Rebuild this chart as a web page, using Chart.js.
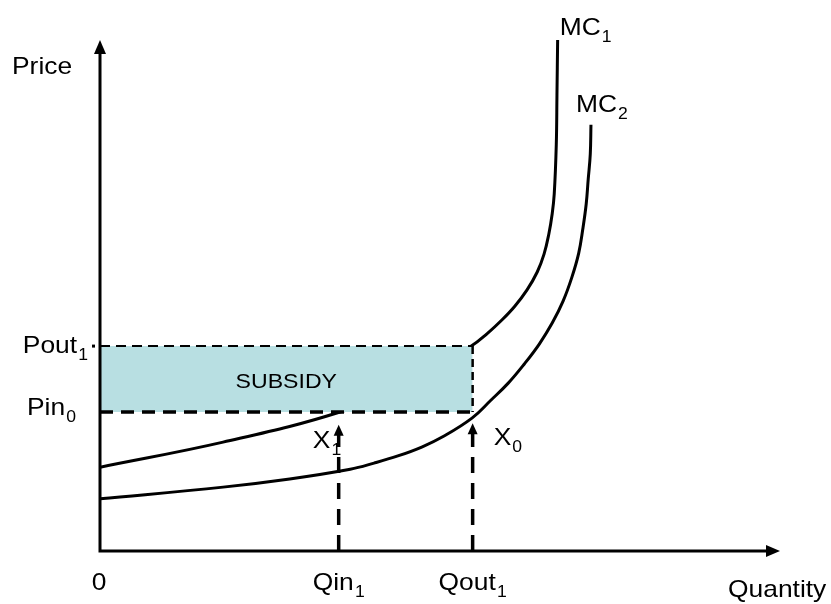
<!DOCTYPE html>
<html>
<head>
<meta charset="utf-8">
<script src="https://cdn.jsdelivr.net/npm/chart.js"></script>
<style>
  html, body { margin: 0; padding: 0; background: #fff; }
  #wrap { position: relative; width: 831px; height: 604px; }
</style>
</head>
<body>
<div id="wrap"><canvas id="chart"></canvas></div>
<script>
// quantity / price, both axes run 0..100
const mc1Q = [0, 18.1, 35.3, 44.9, 54.6, 56.9, 59.1, 61.0, 62.8, 64.3, 65.3, 66.0, 66.5, 66.8, 67.1, 67.2, 67.3];
const mc1P = [16.4, 21.3, 27.2, 32.5, 40.1, 42.5, 45.2, 47.9, 51.1, 54.6, 58.1, 62.0, 66.0, 69.9, 79.5, 89.2, 100];
const mc2Q = [0, 18.1, 27.9, 36.8, 40.3, 43.8, 47.4, 50.6, 54.7, 57.4, 60.0, 62.4, 64.6, 66.5, 68.1, 69.4, 70.4, 71.0, 71.5, 71.8, 72.1, 72.2];
const mc2P = [10.2, 12.5, 14.1, 16.0, 17.2, 18.6, 20.4, 22.5, 26.0, 29.4, 32.8, 36.6, 40.5, 44.6, 48.9, 53.6, 58.3, 63.0, 67.9, 72.8, 77.7, 83.4];

const qLevels = [35.1, 54.8];      // Qin1, Qout1
const qArrowTops = [24.7, 25.0];   // where the dashed up-arrows stop
const pLevels = [40.1, 27.2];      // Pout1, Pin0

const [qin1, qout1] = qLevels;
const [pout1, pin0] = pLevels;

const pts = (xs, ys) => xs.map((v, i) => ({ x: v, y: ys[i] }));
const FONT = '"Liberation Sans", Arial, sans-serif';
const SX = 1.1; // text in the picture is a bit wide

// text with an optional subscript
function label(ctx, main, sub, px, py, align, size) {
  const subSize = 16;
  ctx.font = size + 'px ' + FONT;
  const mw = ctx.measureText(main).width;
  ctx.font = subSize + 'px ' + FONT;
  const sw = sub ? ctx.measureText(sub).width + 1 : 0;
  const total = (mw + sw) * SX;
  let left = px;
  if (align === 'center') left = px - total / 2;
  if (align === 'right') left = px - total;
  ctx.save();
  ctx.translate(left, py);
  ctx.scale(SX, 1);
  ctx.fillStyle = '#000';
  ctx.textAlign = 'left';
  ctx.textBaseline = 'alphabetic';
  ctx.font = size + 'px ' + FONT;
  ctx.fillText(main, 0, 0);
  if (sub) {
    ctx.font = subSize + 'px ' + FONT;
    ctx.fillText(sub, mw + 1, 7);
  }
  ctx.restore();
}

function tri(ctx, tx, ty, dir, len, half) {
  ctx.beginPath();
  if (dir === 'up') {
    ctx.moveTo(tx, ty);
    ctx.lineTo(tx - half, ty + len);
    ctx.lineTo(tx + half, ty + len);
  } else {
    ctx.moveTo(tx, ty);
    ctx.lineTo(tx - len, ty - half);
    ctx.lineTo(tx - len, ty + half);
  }
  ctx.closePath();
  ctx.fill();
}

const diagram = {
  id: 'diagram',
  afterDatasetsDraw(chart) {
    const { ctx, scales: { x, y } } = chart;
    const x0 = x.getPixelForValue(0), y0 = y.getPixelForValue(0);
    const xEnd = x.getPixelForValue(100), yEnd = y.getPixelForValue(100);
    ctx.save();
    ctx.fillStyle = '#000';
    ctx.strokeStyle = '#000';
    ctx.lineWidth = 3;

    // axes with arrowheads
    ctx.beginPath();
    ctx.moveTo(x0, y0 + 1.5); ctx.lineTo(x0, yEnd + 12);
    ctx.moveTo(x0 - 1.5, y0); ctx.lineTo(xEnd - 12, y0);
    ctx.stroke();
    tri(ctx, x0, yEnd, 'up', 14, 6);
    tri(ctx, xEnd, y0, 'right', 14, 6);

    // small arrowheads on the dashed verticals
    qLevels.forEach((q, i) => {
      tri(ctx, x.getPixelForValue(q), y.getPixelForValue(qArrowTops[i]), 'up', 11, 5);
    });

    // tick dot beside Pout1
    ctx.fillRect(x0 - 8, y.getPixelForValue(pout1) - 1.5, 3, 3);

    // labels
    const pxIn = x.getPixelForValue(qin1), pxOut = x.getPixelForValue(qout1);
    const pyOut = y.getPixelForValue(pout1), pyIn = y.getPixelForValue(pin0);
    label(ctx, 'Price', null, 12, 74, 'left', 24);
    label(ctx, 'Quantity', null, 728, 597, 'left', 24);
    label(ctx, '0', null, x0 - 1, 590, 'center', 24);
    label(ctx, 'Qin', '1', pxIn, 590, 'center', 24);
    label(ctx, 'Qout', '1', pxOut, 590, 'center', 24);
    label(ctx, 'Pout', '1', x0 - 12, pyOut + 7, 'right', 24);
    label(ctx, 'Pin', '0', 27, pyIn + 3, 'left', 24);
    label(ctx, 'SUBSIDY', null, (x0 + pxOut) / 2, 388, 'center', 21);
    label(ctx, 'X', '1', pxIn - 26, pyIn + 36, 'left', 24);
    label(ctx, 'X', '0', pxOut + 21, pyIn + 33, 'left', 24);
    label(ctx, 'MC', '1', x.getPixelForValue(67.3) + 2, 35, 'left', 24);
    label(ctx, 'MC', '2', x.getPixelForValue(72.2) - 15, 112, 'left', 24);
    ctx.restore();
  }
};

const line = (data, extra) => Object.assign({
  data: data,
  borderColor: '#000',
  borderWidth: 3,
  pointRadius: 0,
  fill: false,
  borderCapStyle: 'butt'
}, extra);

new Chart(document.getElementById('chart'), {
  type: 'line',
  data: {
    datasets: [
      line(pts(mc1Q, mc1P), { tension: 0.4, order: 3 }),
      line(pts(mc2Q, mc2P), { tension: 0.4, order: 3 }),
      // subsidy box: top edge filled down to Pin0
      line([{ x: 0, y: pout1 }, { x: qout1, y: pout1 }],
        { borderWidth: 2, borderDash: [10, 6], fill: { value: pin0 }, backgroundColor: '#b8dfe2', order: 2 }),
      line([{ x: qout1, y: pout1 }, { x: qout1, y: pin0 }],
        { borderWidth: 2.5, borderDash: [8, 5], order: 1 }),
      line([{ x: 0, y: pin0 }, { x: qout1, y: pin0 }],
        { borderWidth: 3.5, borderDash: [13, 8], order: 1 }),
      line([{ x: qin1, y: 0 }, { x: qin1, y: qArrowTops[0] }],
        { borderWidth: 3.5, borderDash: [16, 10], order: 1 }),
      line([{ x: qout1, y: 0 }, { x: qout1, y: qArrowTops[1] }],
        { borderWidth: 3.5, borderDash: [16, 10], order: 1 })
    ]
  },
  options: {
    responsive: true,
    maintainAspectRatio: false,
    animation: false,
    events: [],
    layout: { padding: { left: 100, right: 51, top: 40, bottom: 53 } },
    scales: {
      x: { type: 'linear', min: 0, max: 100, display: false },
      y: { type: 'linear', min: 0, max: 100, display: false }
    },
    plugins: {
      legend: { display: false },
      tooltip: { enabled: false },
      title: { display: false }
    }
  },
  plugins: [diagram]
});
</script>
</body>
</html>
